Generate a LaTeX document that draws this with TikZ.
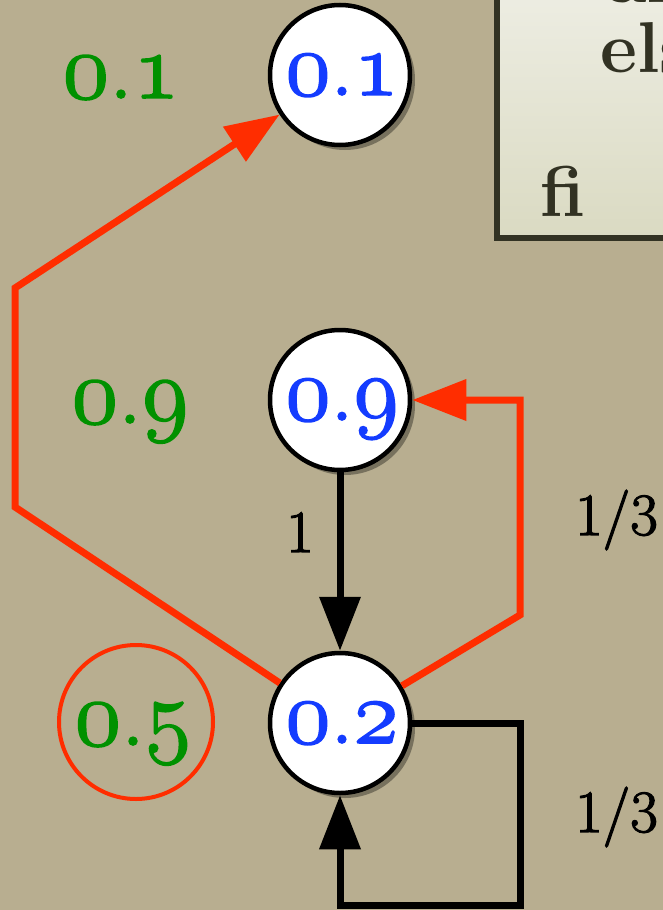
\RequirePackage{fix-cm}
\documentclass[tikz,border=0pt]{standalone}
\usetikzlibrary{arrows.meta,shadows}
\definecolor{bgk}{RGB}{184,174,144}
\definecolor{redline}{RGB}{255,45,0}
\definecolor{greentxt}{RGB}{0,145,0}
\definecolor{bluetxt}{RGB}{20,60,255}
\definecolor{boxline}{RGB}{50,50,35}
\definecolor{boxtop}{RGB}{238,238,228}
\definecolor{boxbot}{RGB}{218,218,194}
\newcommand{\oldd}[1]{{\fontencoding{OML}\fontfamily{cmm}\fontseries{m}\fontshape{it}\selectfont #1}}
\newcommand{\heavytext}[2]{\special{pdf:literal direct 2 Tr #1 w}#2\special{pdf:literal direct 0 Tr}}
\tikzset{
  state/.style={circle, draw=black, line width=4.5pt, fill=white, minimum size=140pt, inner sep=0pt,
    drop shadow={shadow xshift=5pt, shadow yshift=-5pt, fill=black, opacity=0.35}},
  bluelab/.style={anchor=base, text=bluetxt, font=\fontsize{92}{100}\selectfont, inner sep=0pt},
  greenlab/.style={anchor=base, text=greentxt, font=\fontsize{95}{100}\selectfont, inner sep=0pt},
  edgelab/.style={anchor=base west, font=\fontsize{60}{70}\selectfont, inner sep=0pt},
  boxtxt/.style={anchor=base west, text=boxline, font=\bfseries\fontsize{72}{80}\selectfont, inner sep=0pt},
  redarrow/.style={draw=redline, line width=7pt, line join=miter, -{Triangle[length=54pt,width=40pt]}},
  blackarrow/.style={draw=black, line width=7pt, line join=miter, -{Triangle[length=54pt,width=40pt]}},
}
\begin{document}
\begin{tikzpicture}[x=1pt,y=-1pt]
\useasboundingbox (0,0) rectangle (663,910);
\clip (0,0) rectangle (663,910);
\fill[bgk] (0,0) rectangle (663,910);

% code box
\shade[top color=boxtop, bottom color=boxbot, draw=boxline, line width=6pt] (497,-20) rectangle (720,238);
\node[boxtxt] (tan) at (607,2) {an};
\node[boxtxt] (telse) at (600,72) {else};
\node[boxtxt] (tfi) at (540,216) {fi};

% states
\node[state] (n1) at (340,75) {};
\node[state] (n9) at (340,400) {};
\node[state] (n2) at (340,723) {};
\node[bluelab] (b1) at (342,95) {\heavytext{1.6}{\oldd{0}.\oldd{1}}};
\node[bluelab] (b9) at (342,420) {\heavytext{1.6}{\oldd{0}.\oldd{9}}};
\node[bluelab] (b2) at (342,743) {\heavytext{1.6}{\oldd{0}.\oldd{2}}};

% green labels
\node[greenlab] (g1) at (121,98) {\heavytext{1.6}{\oldd{0}.\oldd{1}}};
\node[greenlab] (g9) at (130,423) {\heavytext{1.6}{\oldd{0}.\oldd{9}}};
\node[greenlab] (g5) at (133,745) {\heavytext{1.6}{\oldd{0}.\oldd{5}}};
\node[circle, draw=redline, line width=4pt, minimum size=154pt, inner sep=0pt] (c5) at (136,722) {};

% red edges
\coordinate (r1) at (15,507);
\coordinate (r2) at (15,288);
\coordinate (r3) at (520,615);
\coordinate (r4) at (520,400);
\draw[redarrow] (n2) -- (r1) -- (r2) -- (n1);
\draw[redarrow] (n2) -- (r3) -- (r4) -- (n9);

% black edges
\draw[blackarrow] (n9) -- (n2);
\node[edgelab] (l1) at (286,552) {\heavytext{1.2}{1}};
\coordinate (s1) at (520,723);
\coordinate (s2) at (520,905);
\coordinate (s3) at (340,905);
\draw[blackarrow] (n2) -- (s1) -- (s2) -- (s3) -- (n2);

\node[edgelab] (q1) at (575,535) {\heavytext{1.2}{1/3}};
\node[edgelab] (q2) at (575,832) {\heavytext{1.2}{1/3}};
\end{tikzpicture}
\end{document}
